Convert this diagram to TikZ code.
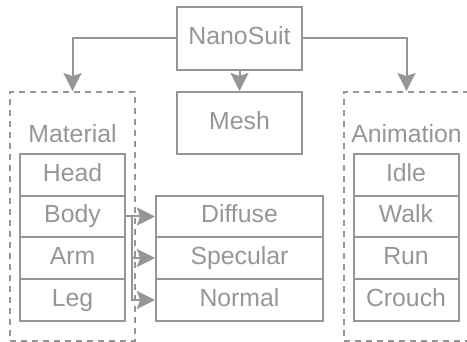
\documentclass[tikz,border=0pt]{standalone}
\usepackage{fontspec}
\setmainfont{Liberation Sans}
\usetikzlibrary{arrows.meta}
\definecolor{suitgray}{RGB}{150,150,150}
\tikzset{
  part/.style={draw=suitgray,line width=1pt,text=suitgray,inner sep=0pt,
    font=\fontsize{12.4}{14}\selectfont,text height=8.9pt,text depth=2.6pt},
  row/.style={part,minimum width=52.5pt,minimum height=20.8pt},
  wide/.style={part,minimum width=83.5pt,minimum height=20.8pt},
  group/.style={draw=suitgray,line width=0.9pt,dash pattern=on 3pt off 2.5pt,
    minimum width=62.5pt,minimum height=124.5pt,inner sep=0pt},
  label/.style={text=suitgray,font=\fontsize{12.4}{14}\selectfont},
  link/.style={draw=suitgray,line width=1pt,-{Stealth[length=9pt,width=9pt,inset=1.5pt]}}
}
\begin{document}
\begin{tikzpicture}[x=0.5pt,y=-0.5pt]
  \useasboundingbox (0,0) rectangle (467,342);
  \clip (0,0) rectangle (467,342);
  % top level
  \node[part,minimum width=62.5pt,minimum height=31.5pt] (nanosuit) at (239.5,38.5) {NanoSuit};
  \node[part,minimum width=62.5pt,minimum height=31pt] (mesh) at (239.5,123) {Mesh};
  % groups
  \node[group] (matgrp) at (72.5,216.5) {};
  \node[group] (animgrp) at (406.5,216.5) {};
  \node[label] (matlabel) at (72.5,134) {Material};
  \node[label] (animlabel) at (406.5,134) {Animation};
  % material rows
  \node[row] (head) at (72.5,175) {Head};
  \node[row] (body) at (72.5,216.5) {Body};
  \node[row] (arm) at (72.5,258) {Arm};
  \node[row] (leg) at (72.5,300) {Leg};
  % textures
  \node[wide] (diffuse) at (239.5,216.5) {Diffuse};
  \node[wide] (specular) at (239.5,258) {Specular};
  \node[wide] (normal) at (239.5,300) {Normal};
  % animation rows
  \node[row] (idle) at (406,175) {Idle};
  \node[row] (walk) at (406,216.5) {Walk};
  \node[row] (run) at (406,258) {Run};
  \node[row] (crouch) at (406,300) {Crouch};
  % links
  \draw[link] (nanosuit.west) -| (matgrp.north);
  \draw[link] (nanosuit.east) -| (animgrp.north);
  \draw[link] (nanosuit.south) -- (mesh.north);
  \coordinate (split) at ([xshift=3pt]body.east);
  \draw[link] (body.east) -- (diffuse.west);
  \draw[link] (split) |- (specular.west);
  \draw[link] (split) |- (normal.west);
\end{tikzpicture}
\end{document}
